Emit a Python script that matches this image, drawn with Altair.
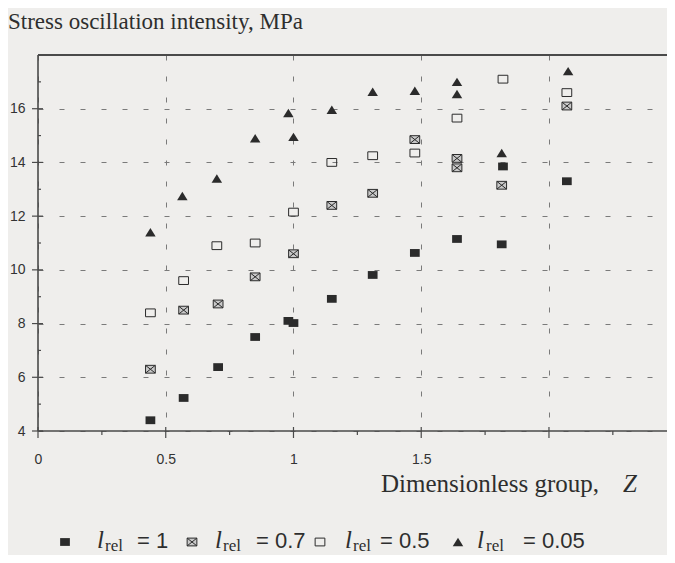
import altair as alt
import pandas as pd

# ---------------- data ----------------
z_rel_1 = [0.44, 0.57, 0.705, 0.85, 0.98, 1.0, 1.15, 1.31, 1.475, 1.64, 1.815, 1.82, 2.07]
s_rel_1 = [4.4, 5.23, 6.38, 7.5, 8.1, 8.02, 8.92, 9.81, 10.63, 11.15, 10.95, 13.85, 13.3]

z_rel_07 = [0.44, 0.57, 0.705, 0.85, 1.0, 1.15, 1.31, 1.475, 1.64, 1.64, 1.815, 2.07]
s_rel_07 = [6.3, 8.5, 8.73, 9.74, 10.6, 12.4, 12.85, 14.85, 14.15, 13.8, 13.15, 16.1]

z_rel_05 = [0.44, 0.57, 0.70, 0.85, 1.0, 1.15, 1.31, 1.475, 1.64, 1.82, 2.07]
s_rel_05 = [8.4, 9.6, 10.9, 11.0, 12.15, 14.0, 14.25, 14.35, 15.65, 17.1, 16.6]

z_rel_005 = [0.44, 0.565, 0.70, 0.85, 0.98, 1.0, 1.15, 1.31, 1.475, 1.64, 1.64, 1.815, 2.075]
s_rel_005 = [11.4, 12.75, 13.4, 14.9, 15.84, 14.95, 15.96, 16.63, 16.67, 17.0, 16.55, 14.35, 17.4]

x_major = [0, 0.5, 1, 1.5, 2]
x_minor = [0.25, 0.75, 1.25, 1.75, 2.25]
y_major = [4, 6, 8, 10, 12, 14, 16]
y_minor = [5, 7, 9, 11, 13, 15, 17]

legend_values = ["= 1", "= 0.7", "= 0.5", "= 0.05"]
y_title = "Stress oscillation intensity, MPa"
x_title = "Dimensionless group,"
x_title_var = "Z"

# ---------------- styling ----------------
W, H = 629, 376
X_DOM = [0, 2.462]
Y_DOM = [4, 18]
INK = "#2b2b2b"
AXIS = "#4a4a4a"
GRID = "#7a7a7a"
BG = "#efeeec"

RECT = "M-1,-0.8L1,-0.8L1,0.8L-1,0.8Z"
XRECT = "M-1,-0.8L1,-0.8L1,0.8L-1,0.8Z M-1,-0.8L1,0.8 M1,-0.8L-1,0.8"
TRI = "M0,-0.8L1,0.8L-1,0.8Z"

xs = alt.Scale(domain=X_DOM, nice=False, zero=False)
ys = alt.Scale(domain=Y_DOM, nice=False, zero=False)


def series_df(z, s):
    return pd.DataFrame({"z": z, "s": s})


x_enc = alt.X(
    "z:Q", scale=xs,
    axis=alt.Axis(
        values=x_major, title=None, ticks=False, tickSize=0, domain=False,
        grid=True, gridDash=[5, 16], gridColor=GRID, gridWidth=1,
        labelFont="Liberation Sans", labelFontSize=14, labelColor="#333",
        labelPadding=21, labelFlush=False,
        labelExpr="datum.value == 2 ? '' : toString(datum.value)",
    ),
)
y_enc = alt.Y(
    "s:Q", scale=ys,
    axis=alt.Axis(
        values=y_major, title=None, ticks=False, tickSize=0, domain=False,
        grid=True, gridDash=[5, 16], gridColor=GRID, gridWidth=1,
        labelFont="Liberation Sans", labelFontSize=14, labelColor="#333",
        labelPadding=13, labelFlush=False,
    ),
)

base_axes = alt.Chart(series_df(z_rel_1, s_rel_1)).mark_point(opacity=0).encode(x=x_enc, y=y_enc)

p1 = alt.Chart(series_df(z_rel_1, s_rel_1)).mark_point(
    shape=RECT, size=95, filled=True, color=INK, opacity=1
).encode(x=alt.X("z:Q", scale=xs), y=alt.Y("s:Q", scale=ys))

p07 = alt.Chart(series_df(z_rel_07, s_rel_07)).mark_point(
    shape=XRECT, size=95, fill="#c9c9c9", fillOpacity=1, stroke=INK, strokeWidth=1, opacity=1
).encode(x=alt.X("z:Q", scale=xs), y=alt.Y("s:Q", scale=ys))

p05 = alt.Chart(series_df(z_rel_05, s_rel_05)).mark_point(
    shape=RECT, size=95, filled=False, stroke=INK, strokeWidth=1, opacity=1
).encode(x=alt.X("z:Q", scale=xs), y=alt.Y("s:Q", scale=ys))

p005 = alt.Chart(series_df(z_rel_005, s_rel_005)).mark_point(
    shape=TRI, size=110, filled=True, color=INK, opacity=1
).encode(x=alt.X("z:Q", scale=xs), y=alt.Y("s:Q", scale=ys))

# axis lines and frame
axis_left = alt.Chart(pd.DataFrame({"a": [0]})).mark_rule(color=AXIS, strokeWidth=1.6).encode(
    x=alt.value(0), y=alt.value(0), y2=alt.value(H))
axis_bottom = alt.Chart(pd.DataFrame({"a": [0]})).mark_rule(color=AXIS, strokeWidth=1.6).encode(
    x=alt.value(0), x2=alt.value(W), y=alt.value(H))
axis_top = alt.Chart(pd.DataFrame({"a": [0]})).mark_rule(color=AXIS, strokeWidth=1.8).encode(
    x=alt.value(0), x2=alt.value(W), y=alt.value(0))

# ticks
y_tick_major = alt.Chart(pd.DataFrame({"s": y_major})).mark_rule(color=AXIS, strokeWidth=1.2).encode(
    y=alt.Y("s:Q", scale=ys), x=alt.value(-6), x2=alt.value(5))
y_tick_minor = alt.Chart(pd.DataFrame({"s": y_minor})).mark_rule(color=AXIS, strokeWidth=1.2).encode(
    y=alt.Y("s:Q", scale=ys), x=alt.value(0), x2=alt.value(3))
x_tick_major = alt.Chart(pd.DataFrame({"z": x_major})).mark_rule(color=AXIS, strokeWidth=1.2).encode(
    x=alt.X("z:Q", scale=xs), y=alt.value(H - 4), y2=alt.value(H + 7))
x_tick_minor = alt.Chart(pd.DataFrame({"z": x_minor})).mark_rule(color=AXIS, strokeWidth=1.2).encode(
    x=alt.X("z:Q", scale=xs), y=alt.value(H), y2=alt.value(H + 4))


def text_layer(txt, x, y, font="Liberation Serif", size=25, style="normal", align="left"):
    return alt.Chart(pd.DataFrame({"t": [txt]})).mark_text(
        text=txt, font=font, fontSize=size, fontStyle=style, align=align,
        baseline="alphabetic", color="#2e2e2e",
    ).encode(x=alt.value(x), y=alt.value(y))


texts = [
    text_layer(y_title, -30, -26, size=23),
    text_layer(x_title, 561, 437, size=25, align="right"),
    text_layer(x_title_var, 585, 437, size=25, style="italic"),
]

# legend (manual, to keep italic l with subscript "rel")
leg_marker_x = [27, 154, 282, 420]
leg_l_x = [59, 177, 307, 439]
leg_rel_x = [67, 185, 315, 448]
leg_eq_x = [99, 218, 342, 485]
leg_shapes = [
    dict(shape=RECT, size=95, filled=True, color=INK),
    dict(shape=XRECT, size=95, fill="#c9c9c9", fillOpacity=1, stroke=INK, strokeWidth=1),
    dict(shape=RECT, size=95, filled=False, stroke=INK, strokeWidth=1),
    dict(shape=TRI, size=110, filled=True, color=INK),
]
legend_layers = []
for i in range(4):
    legend_layers.append(
        alt.Chart(pd.DataFrame({"a": [0]})).mark_point(opacity=1, **leg_shapes[i]).encode(
            x=alt.value(leg_marker_x[i]), y=alt.value(487))
    )
    legend_layers.append(text_layer("l", leg_l_x[i], 493, size=25, style="italic"))
    legend_layers.append(text_layer("rel", leg_rel_x[i], 496, size=17))
    legend_layers.append(text_layer(legend_values[i], leg_eq_x[i], 493, font="Liberation Sans", size=22))

chart = alt.layer(
    base_axes, axis_left, axis_bottom, axis_top,
    y_tick_major, y_tick_minor, x_tick_major, x_tick_minor,
    p1, p07, p05, p005, *texts, *legend_layers,
).resolve_scale(x="shared", y="shared").properties(
    width=W, height=H,
    autosize=alt.AutoSizeParams(type="none"),
    padding={"left": 30, "top": 47, "right": 0, "bottom": 124},
    background=BG,
).configure_view(stroke=None)

chart.save("out.html", embed_options={"renderer": "svg", "actions": False})
